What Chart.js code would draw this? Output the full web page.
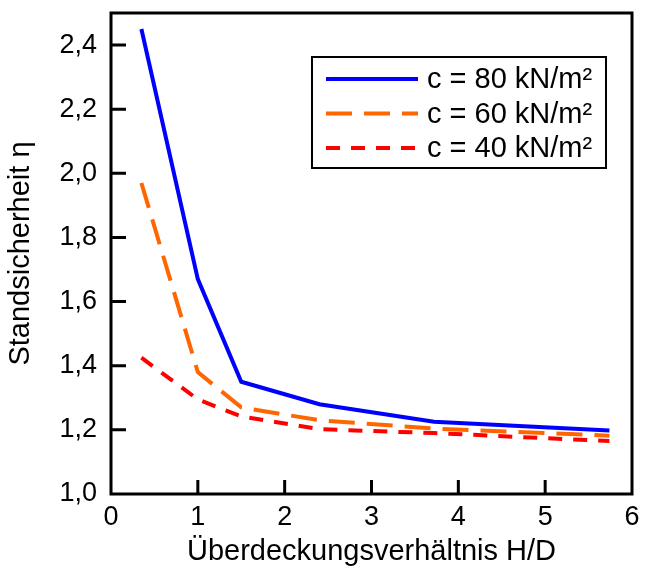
<!DOCTYPE html>
<html>
<head>
<meta charset="utf-8">
<script src="https://cdn.jsdelivr.net/npm/chart.js@4"></script>
<style>
  html, body { margin: 0; padding: 0; background: #fff; }
  #wrap { width: 645px; height: 569px; }
</style>
</head>
<body>
<div id="wrap"><canvas id="chart" width="645" height="569"></canvas></div>
<script>
// ---- data ----
const HD = [0.35, 1.0, 1.5, 2.4, 3.72, 5.74];
const ETA_C80 = [2.45, 1.67, 1.35, 1.28, 1.225, 1.198];
const ETA_C60 = [1.97, 1.38, 1.27, 1.23, 1.204, 1.182];
const ETA_C40 = [1.425, 1.295, 1.242, 1.202, 1.19, 1.165];
const SERIES_LABELS = ["c = 80 kN/m²", "c = 60 kN/m²", "c = 40 kN/m²"];
const X_TICKS = [0, 1, 2, 3, 4, 5, 6];
const Y_TICKS = [1.0, 1.2, 1.4, 1.6, 1.8, 2.0, 2.2, 2.4];

const FONT = "'Liberation Sans', Arial, sans-serif";

const pts = (ys) => HD.map((x, i) => ({ x, y: ys[i] }));

// frame + inward ticks
const framePlugin = {
  id: "frame",
  afterDraw(chart) {
    const { ctx, chartArea: a, scales } = chart;
    ctx.save();
    ctx.strokeStyle = "#000";
    ctx.lineWidth = 3;
    ctx.beginPath();
    for (const v of X_TICKS.slice(1, -1)) {
      const px = scales.x.getPixelForValue(v);
      ctx.moveTo(px, a.bottom);
      ctx.lineTo(px, a.bottom - 14);
    }
    for (const v of Y_TICKS.slice(1)) {
      const py = scales.y.getPixelForValue(v);
      ctx.moveTo(a.left, py);
      ctx.lineTo(a.left + 15, py);
    }
    ctx.stroke();
    ctx.strokeRect(a.left, a.top, a.right - a.left, a.bottom - a.top);
    ctx.restore();
  }
};

// boxed legend inside the plot
const boxLegend = {
  id: "boxLegend",
  afterDraw(chart) {
    const { ctx, chartArea: a } = chart;
    const x0 = a.left + 201, y0 = a.top + 44, w = 294, h = 111;
    ctx.save();
    ctx.fillStyle = "#fff";
    ctx.fillRect(x0, y0, w, h);
    ctx.strokeStyle = "#000";
    ctx.lineWidth = 2;
    ctx.strokeRect(x0, y0, w, h);
    ctx.font = `29px ${FONT}`;
    ctx.textBaseline = "middle";
    chart.data.datasets.forEach((ds, i) => {
      const cy = y0 + 22 + i * 34.5;
      ctx.strokeStyle = ds.borderColor;
      ctx.lineWidth = ds.borderWidth;
      ctx.setLineDash(ds.borderDash || []);
      ctx.beginPath();
      ctx.moveTo(x0 + 14, cy);
      ctx.lineTo(x0 + 106, cy);
      ctx.stroke();
      ctx.setLineDash([]);
      ctx.fillStyle = "#000";
      ctx.fillText(ds.label, x0 + 115, cy + 1);
    });
    ctx.restore();
  }
};

const line = (label, ys, color, dash) => ({
  label, data: pts(ys), borderColor: color, borderWidth: 4,
  borderDash: dash, pointRadius: 0, fill: false, tension: 0,
  borderCapStyle: "butt", borderJoinStyle: "miter"
});

new Chart(document.getElementById("chart"), {
  type: "line",
  data: {
    datasets: [
      line(SERIES_LABELS[0], ETA_C80, "#0000ff", []),
      line(SERIES_LABELS[1], ETA_C60, "#ff6600", [26, 12]),
      line(SERIES_LABELS[2], ETA_C40, "#ff0000", [14, 11]),
    ]
  },
  options: {
    responsive: false,
    animation: false,
    layout: { padding: { top: 13, right: 13, left: 0, bottom: 0 } },
    plugins: { legend: { display: false }, tooltip: { enabled: false } },
    scales: {
      x: {
        type: "linear", min: 0, max: 6,
        afterBuildTicks: (s) => { s.ticks = X_TICKS.map(v => ({ value: v })); },
        afterFit: (s) => { s.height = 75; s.paddingLeft = 0; s.paddingRight = 0; },
        grid: { display: false, drawTicks: false },
        border: { display: false },
        ticks: { color: "#000", padding: 7, font: { family: FONT, size: 27 } },
        title: {
          display: true, text: "Überdeckungsverhältnis H/D", color: "#000",
          font: { family: FONT, size: 29 }, padding: { top: 0, bottom: 0 }
        }
      },
      y: {
        type: "linear", min: 1.0, max: 2.5,
        afterBuildTicks: (s) => { s.ticks = Y_TICKS.map(v => ({ value: v })); },
        afterFit: (s) => { s.width = 111; s.paddingTop = 0; s.paddingBottom = 0; },
        grid: { display: false, drawTicks: false },
        border: { display: false },
        ticks: {
          color: "#000", padding: 14, font: { family: FONT, size: 27 },
          callback: (v) => v.toFixed(1).replace(".", ",")
        },
        title: {
          display: true, text: "Standsicherheit η", color: "#000",
          font: { family: FONT, size: 29 }, padding: { top: 4, bottom: 0 }
        }
      }
    }
  },
  plugins: [framePlugin, boxLegend]
});
</script>
</body>
</html>
